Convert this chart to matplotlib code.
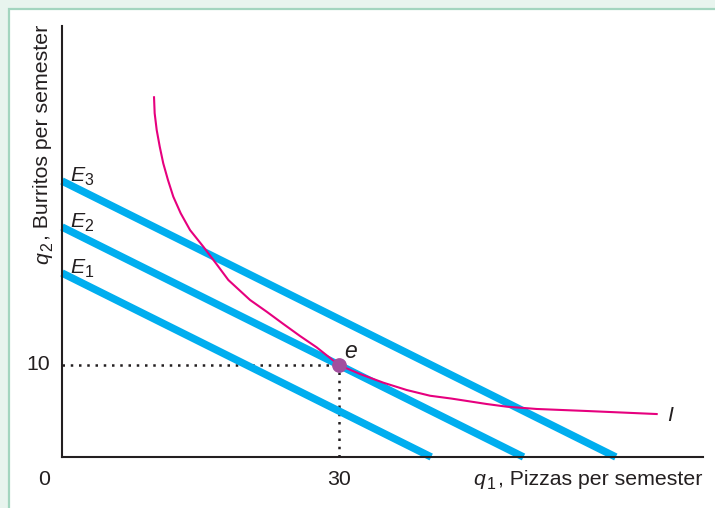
import matplotlib
matplotlib.use("Agg")
import matplotlib.pyplot as plt
from matplotlib.patches import Rectangle

plt.rcParams['font.family'] = ['Liberation Sans', 'DejaVu Sans']

# ---- data ----
budget_names = ["E", "E", "E"]
budget_subs = ["1", "2", "3"]
budget_q2_intercepts = [20, 25, 30]
budget_q1_intercepts = [40, 50, 60]

indiff_q1 = [9.97, 10.04, 10.26, 10.59, 10.97, 11.48, 12.06, 12.86, 13.87,
             15.31, 16.68, 18.02, 20.37, 22.18, 23.98, 25.79, 27.59, 30.0,
             32.29, 34.81, 37.35, 39.87, 42.2, 46.01, 48.18, 51.43, 56.85, 64.43]
indiff_q2 = [39.10, 37.36, 35.54, 33.73, 31.92, 30.11, 28.29, 26.49, 24.67,
             22.86, 21.05, 19.24, 17.07, 15.79, 14.46, 13.15, 11.92, 10.0,
             9.02, 8.08, 7.28, 6.66, 6.35, 5.76, 5.47, 5.22, 5.00, 4.67]

eq_q1 = 30
eq_q2 = 10
x_ticks = [0, 30]
y_ticks = [10]

# ---- figure ----
W, H = 715, 508
fig = plt.figure(figsize=(W / 100, H / 100), dpi=100)
fig.patch.set_facecolor('#e8f4ee')

bg = fig.add_axes([0, 0, 1, 1], zorder=0)
bg.set_xlim(0, W)
bg.set_ylim(H, 0)
bg.axis('off')
bg.add_patch(Rectangle((9, 9), W + 20, H + 20, facecolor='white',
                       edgecolor='#a3d5bf', linewidth=1.6))

x0, x1 = 62, 703
y0, y1 = 457, 26
ax = fig.add_axes([x0 / W, (H - y0) / H, (x1 - x0) / W, (y0 - y1) / H], zorder=2)
ax.set_facecolor('none')
sx = 9.23
sy = 9.2
ax.set_xlim(0, (x1 - x0) / sx)
ax.set_ylim(0, (y0 - y1) / sy)

ink = '#231f20'
for s in ['top', 'right']:
    ax.spines[s].set_visible(False)
for s in ['left', 'bottom']:
    ax.spines[s].set_color(ink)
    ax.spines[s].set_linewidth(1.5)
ax.set_xticks([])
ax.set_yticks([])

fs = 15.3
fs_sub = 11.5
r = fig.canvas.get_renderer()

blue = '#00aeef'
for name, sub, yi, xi in zip(budget_names, budget_subs,
                             budget_q2_intercepts, budget_q1_intercepts):
    ax.plot([0, xi], [yi, 0], color=blue, linewidth=5.4, solid_capstyle='butt',
            zorder=2, clip_on=False)
    t = ax.text(0.85, yi, name, fontsize=fs, style='italic', color=ink,
                ha='left', va='baseline')
    bb = t.get_window_extent(r)
    ax.annotate(sub, xy=(bb.x1 / 100 * 72, bb.y0 / 100 * 72), xycoords='figure points',
                xytext=(0.3, -2.0), textcoords='offset points',
                fontsize=fs_sub, color=ink, ha='left', va='bottom')

ax.plot(indiff_q1, indiff_q2, color='#e6007e', linewidth=1.5, zorder=3,
        solid_joinstyle='round')
ax.text(65.6, 3.95, 'I', fontsize=fs, style='italic', color=ink,
        ha='left', va='baseline')

# dotted guides
ax.plot([0, eq_q1], [eq_q2, eq_q2], linestyle=(0, (1, 2.3)), color=ink,
        linewidth=1.8, zorder=1)
ax.plot([eq_q1, eq_q1], [0, eq_q2], linestyle=(0, (1, 2.3)), color=ink,
        linewidth=1.8, zorder=1)

ax.plot([eq_q1], [eq_q2], 'o', markersize=9.6, color='#a24f9e', zorder=5)
ax.text(eq_q1 + 0.6, eq_q2 + 0.75, 'e', fontsize=16.5, style='italic', color=ink,
        ha='left', va='baseline')

# tick labels
for t in x_ticks:
    ax.text(t - (1.9 if t == 0 else 0), -3.05, str(t), fontsize=fs,
            ha='center', va='baseline', color=ink, clip_on=False)
for t in y_ticks:
    ax.text(-1.3, t, str(t), fontsize=fs, ha='right', va='center', color=ink)

# x axis label: q_1, Pizzas per semester
t = bg.text(702, 485, ', Pizzas per semester', fontsize=fs, ha='right',
            va='baseline', color=ink)
bb = t.get_window_extent(r)
s = bg.text(bb.x0 - 2.0, 489, '1', fontsize=fs_sub, ha='right', va='baseline',
            color=ink)
bb2 = s.get_window_extent(r)
bg.text(bb2.x0 - 1.5, 485, 'q', fontsize=fs, style='italic', ha='right',
        va='baseline', color=ink)

# y axis label: q_2, Burritos per semester (rotated)
t = bg.text(48, 25, ', Burritos per semester', fontsize=fs, ha='right',
            va='baseline', rotation=90, rotation_mode='anchor', color=ink)
bb = t.get_window_extent(r)
s = bg.text(52, H - bb.y0 + 2.0, '2', fontsize=fs_sub, ha='right',
            va='baseline', rotation=90, rotation_mode='anchor', color=ink)
bb2 = s.get_window_extent(r)
bg.text(48, H - bb2.y0 + 1.5, 'q', fontsize=fs, style='italic', ha='right',
        va='baseline', rotation=90, rotation_mode='anchor', color=ink)

fig.savefig('out.png', dpi=100, facecolor=fig.get_facecolor())
